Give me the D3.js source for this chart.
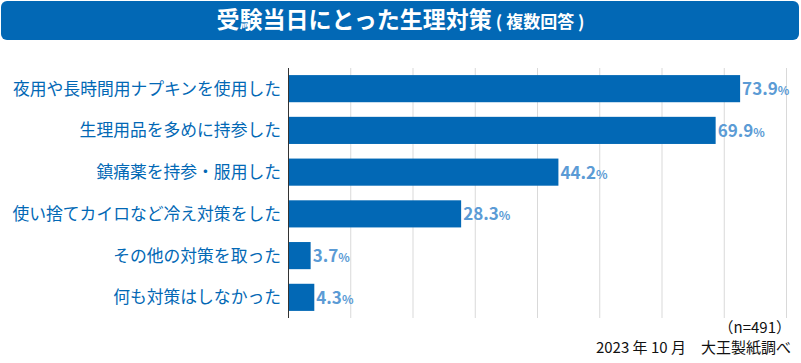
<!DOCTYPE html>
<html lang="ja">
<head>
<meta charset="utf-8">
<script src="https://cdn.jsdelivr.net/npm/d3@7"></script>
<style>
  body { margin: 0; background: #fff; }
  svg { display: block; font-family: "Noto Sans CJK JP", "Noto Sans", sans-serif; }
</style>
</head>
<body>
<div id="chart"></div>
<script>
const categories = [
  "夜用や長時間用ナプキンを使用した",
  "生理用品を多めに持参した",
  "鎮痛薬を持参・服用した",
  "使い捨てカイロなど冷え対策をした",
  "その他の対策を取った",
  "何も対策はしなかった"
];
const values = [73.9, 69.9, 44.2, 28.3, 3.7, 4.3];
const gridTicks = [1, 2, 3, 4, 5, 6, 7, 8];

const w = 801;
const h = 363;
const blue = "#0268b5";
const lightBlue = "#5b9bd5";

const svg = d3.select("#chart")
  .append("svg")
  .attr("width", w)
  .attr("height", h);

// title banner
svg.append("rect")
  .attr("x", 1)
  .attr("y", 1)
  .attr("width", w - 3)
  .attr("height", 39)
  .attr("rx", 6)
  .attr("fill", blue);

const title = svg.append("text")
  .attr("x", w / 2)
  .attr("y", 28)
  .attr("text-anchor", "middle")
  .attr("fill", "#fff")
  .attr("font-weight", "bold");
title.append("tspan").attr("font-size", 23).text("受験当日にとった生理対策");
title.append("tspan").attr("font-size", 17).attr("dx", 4).text("( 複数回答 )");

const plotLeft = 288;
const plotTop = 68;
const plotBottom = 318;

const xScale = d3.scaleLinear()
  .domain([0, 81.4])
  .range([plotLeft, plotLeft + 498]);

// gridlines are spaced evenly, not on round percentages
const gridScale = d3.scaleLinear()
  .domain([0, 8])
  .range([plotLeft, plotLeft + 498]);

const yScale = d3.scaleBand()
  .domain(categories)
  .range([plotTop, plotBottom])
  .paddingInner(0.35)
  .paddingOuter(0.17);

svg.append("g")
  .selectAll("line")
  .data(gridTicks)
  .enter()
  .append("line")
  .attr("x1", d => gridScale(d) + 0.5)
  .attr("x2", d => gridScale(d) + 0.5)
  .attr("y1", plotTop)
  .attr("y2", plotBottom)
  .attr("stroke", "#d9d9d9")
  .attr("stroke-width", 1);

svg.selectAll(".bar")
  .data(values)
  .enter()
  .append("rect")
  .attr("class", "bar")
  .attr("x", xScale(0))
  .attr("y", (d, i) => yScale(categories[i]))
  .attr("width", d => xScale(d) - xScale(0))
  .attr("height", yScale.bandwidth())
  .attr("fill", blue);

// axis line
svg.append("line")
  .attr("x1", plotLeft + 0.5)
  .attr("x2", plotLeft + 0.5)
  .attr("y1", plotTop)
  .attr("y2", plotBottom)
  .attr("stroke", "#333")
  .attr("stroke-width", 1);

// category labels
svg.selectAll(".label")
  .data(categories)
  .enter()
  .append("text")
  .attr("class", "label")
  .attr("x", 281)
  .attr("y", d => yScale(d) + yScale.bandwidth() / 2)
  .attr("dy", "0.36em")
  .attr("text-anchor", "end")
  .attr("font-size", 16.8)
  .attr("fill", blue)
  .text(d => d);

// value labels
const vals = svg.selectAll(".value")
  .data(values)
  .enter()
  .append("text")
  .attr("class", "value")
  .attr("x", d => xScale(d) + 2)
  .attr("y", (d, i) => yScale(categories[i]) + yScale.bandwidth() / 2)
  .attr("dy", "0.4em")
  .attr("fill", lightBlue)
  .attr("font-weight", "bold");
vals.append("tspan").attr("font-size", 17).text(d => d.toFixed(1));
vals.append("tspan").attr("font-size", 12).text("%");

// footer
svg.append("text")
  .attr("x", 791)
  .attr("y", 333)
  .attr("text-anchor", "end")
  .attr("font-size", 15)
  .attr("fill", "#111")
  .text("（n=491）");

svg.append("text")
  .attr("x", 791)
  .attr("y", 353)
  .attr("text-anchor", "end")
  .attr("font-size", 15)
  .attr("fill", "#111")
  .text("2023 年 10 月　大王製紙調べ");
</script>
</body>
</html>
